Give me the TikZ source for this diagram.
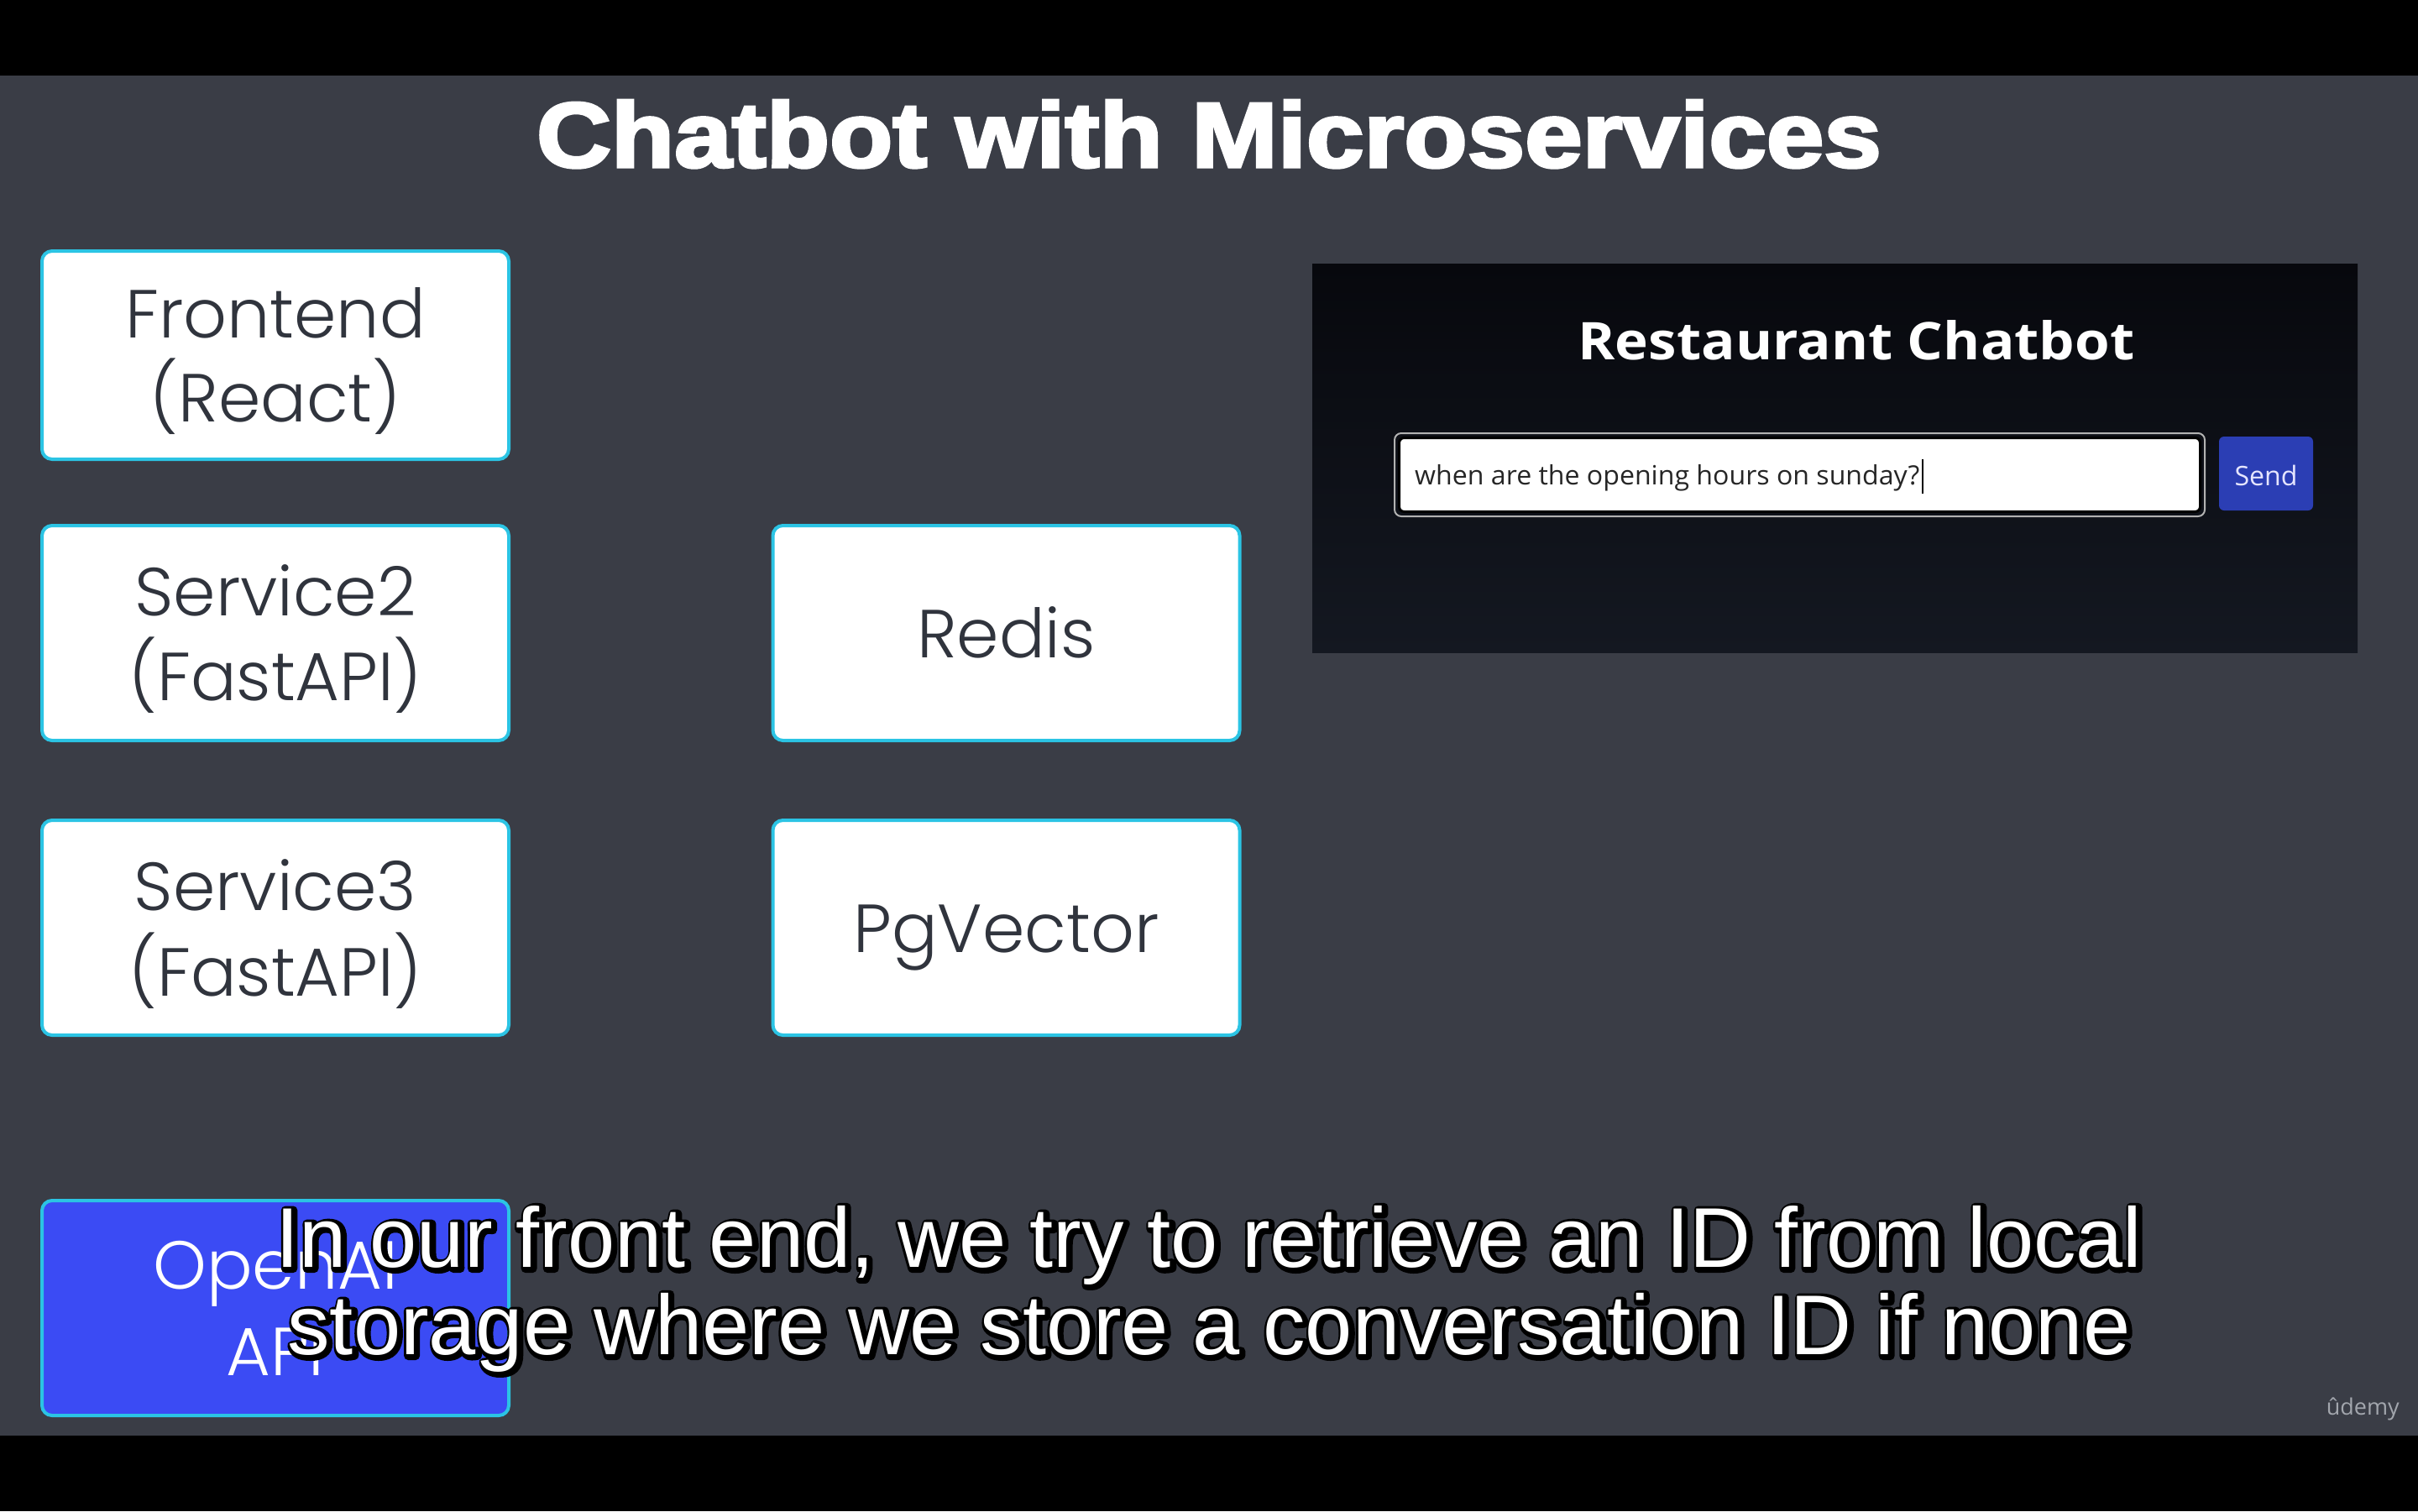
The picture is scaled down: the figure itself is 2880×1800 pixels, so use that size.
\documentclass[tikz,border=0pt]{standalone}
\usepackage{fontspec}
\usepackage{graphicx}
\setmainfont{Liberation Sans}
\newfontfamily\titlefont[BoldFeatures={FakeBold=3}]{Liberation Sans}
\newfontfamily\boxfont{Poppins Light}
\newfontfamily\uifont{Open Sans}
\newfontfamily\subfont{Liberation Sans}
\definecolor{bgdark}{HTML}{3A3D46}
\definecolor{boxborder}{HTML}{2BC4E4}
\definecolor{boxtext}{HTML}{30343D}
\definecolor{oaifill}{HTML}{3B4BF4}
\definecolor{sendblue}{HTML}{2B3EB4}
\definecolor{panelTop}{HTML}{07080D}
\definecolor{panelBot}{HTML}{141821}
\definecolor{udemygray}{HTML}{A2A6AD}
\newcommand{\outlinetext}[1]{\special{pdf:literal direct 1 Tr 10 w 1 j 1 J 0 0 0 RG}#1\special{pdf:literal direct 0 Tr}}
\tikzset{
  svcbox/.style={draw=boxborder, line width=4pt, rounded corners=12pt, fill=white,
    minimum width=556pt, minimum height=256pt, inner sep=0pt},
  svclabel/.style={anchor=base, inner sep=0pt, text=boxtext,
    font=\boxfont\fontsize{81}{100}\selectfont},
  sublabel/.style={anchor=base, inner sep=0pt, font=\subfont\fontsize{101}{105}\selectfont}
}
\begin{document}
\begin{tikzpicture}[x=1pt,y=-1pt]
\useasboundingbox (0,0) rectangle (2880,1800);
\fill[black] (0,0) rectangle (2880,1800);
\fill[bgdark] (0,90) rectangle (2880,1710);

% title
\node[anchor=base, inner sep=0pt, text=white] (title) at (1440,199)
  {\titlefont\bfseries\fontsize{110}{110}\selectfont\scalebox{1.12}[1]{Chatbot with Microservices}};

% service boxes
\node[svcbox, minimum height=248pt] (fe) at (328,423) {};
\node[svcbox] (s2) at (328,754) {};
\node[svcbox] (s3) at (328,1105) {};
\node[svcbox] (redis) at (1198.5,754) {};
\node[svcbox] (pg) at (1198.5,1105) {};
\node[svcbox, fill=oaifill] (oai) at (328,1558) {};

\node[svclabel] (fe1) at (328,402) {Frontend};
\node[svclabel] (fe2) at (328,502) {(React)};
\node[svclabel] (s21) at (328,733) {Service2};
\node[svclabel] (s22) at (328,834) {(FastAPI)};
\node[svclabel] (s31) at (328,1084) {Service3};
\node[svclabel] (s32) at (328,1186) {(FastAPI)};
\node[svclabel] (redisl) at (1198.5,783) {Redis};
\node[svclabel] (pgl) at (1198.5,1134) {PgVector};
\node[svclabel, text=white] (oai1) at (328,1535) {OpenAI};
\node[svclabel, text=white] (oai2) at (328,1638) {API};

% chat panel
\shade[top color=panelTop, bottom color=panelBot] (1563,314) rectangle (2808,777);
\node[anchor=base, inner sep=0pt, text=white] (chattitle) at (2211,428)
  {\resizebox{663pt}{47pt}{\uifont\bfseries Restaurant Chatbot}};
\draw[rounded corners=8pt, draw=gray!60, line width=2pt] (1661,516) rectangle (2626,615);
\node[draw=black, line width=3pt, fill=white, rounded corners=6pt, minimum width=954pt,
  minimum height=88pt, inner sep=0pt] (input) at (2143.5,565.5) {};
\node[anchor=base west, inner sep=0pt, text=black!85] (query) at (1685,577)
  {\resizebox{601pt}{24pt}{\uifont when are the opening hours on sunday?}};
\draw[line width=2pt, black] (2290,547) -- (2290,588);
\node[fill=sendblue, rounded corners=6pt, minimum width=112pt, minimum height=88pt,
  inner sep=0pt] (send) at (2699,564) {};
\node[inner sep=0pt, text=white!90!blue] (sendl) at (2699,566)
  {\resizebox{75pt}{!}{\uifont Send}};

% subtitle
\node[sublabel, text=white] (sub1o) at (1442,1511) {\outlinetext{In our front end, we try to retrieve an ID from local}};
\node[sublabel, text=white] (sub1) at (1440,1509) {In our front end, we try to retrieve an ID from local};
\node[sublabel, text=white] (sub2o) at (1442,1615) {\outlinetext{storage where we store a conversation ID if none}};
\node[sublabel, text=white] (sub2) at (1440,1613) {storage where we store a conversation ID if none};

% logo
\node[anchor=base east, inner sep=0pt, text=udemygray] (udemy) at (2858,1685)
  {\uifont\fontsize{27}{27}\selectfont ûdemy};
\end{tikzpicture}
\end{document}
